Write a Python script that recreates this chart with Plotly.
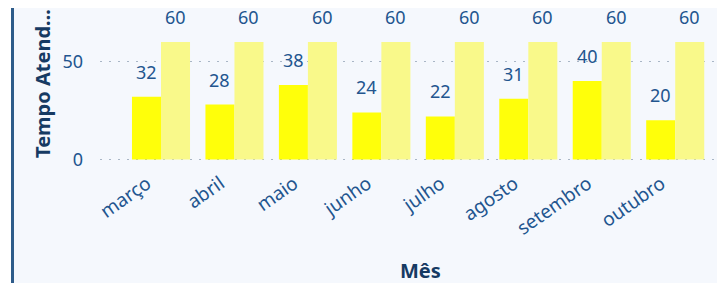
import plotly.graph_objects as go

meses = ["março", "abril", "maio", "junho", "julho", "agosto", "setembro", "outubro"]
tempo_atend = [32, 28, 38, 24, 22, 31, 40, 20]
meta = [60, 60, 60, 60, 60, 60, 60, 60]
y_ticks = [0, 50]

FONT = "Noto Sans"
LABEL_COLOR = "#22558F"
TITLE_COLOR = "#163A63"
BG = "#F5F8FD"
BARGAP = 0.21

# the page body has an 8px margin, so layout is computed in window pixels minus 8
OFF = 8
W, H = 725 - OFF, 283 - OFF
plot_left, plot_right, plot_top, plot_bottom = 100, 725, OFF, 162  # window px
L, R, T, B = plot_left - OFF, 725 - plot_right, plot_top - OFF, 283 - plot_bottom
pw = W - L - R
ph = H - T - B

fig = go.Figure()
fig.add_trace(go.Bar(x=meses, y=tempo_atend, name="Tempo Atendimento",
                     marker=dict(color="#FFFF0A", line=dict(width=0))))
fig.add_trace(go.Bar(x=meses, y=meta, name="Meta",
                     marker=dict(color="#F9F98A", line=dict(width=0))))

half = (1 - BARGAP) / 4
for i, (a, b) in enumerate(zip(tempo_atend, meta)):
    for xv, yv in ((i - half, a), (i + half, b)):
        fig.add_annotation(x=xv, y=yv, xref="x", yref="y", text=str(yv),
                           showarrow=False, yanchor="bottom", yshift=12, borderpad=0,
                           font=dict(family=FONT, size=18, color=LABEL_COLOR))

spacing = 73.46
cat0 = 161
x0 = (plot_left - cat0) / spacing
x1 = (plot_right - cat0) / spacing
ppu = 1.96
zero_px = 159.5
y_top = (zero_px - plot_top) / ppu
y_bot = -(plot_bottom - zero_px) / ppu


def px2paper_x(px):
    return (px - plot_left) / pw


def px2paper_y(py):
    return (plot_bottom - py) / ph


fig.add_shape(type="rect", xref="paper", yref="paper", x0=px2paper_x(-20), x1=px2paper_x(11),
              y0=-2, y1=2, fillcolor="white", line=dict(width=0), layer="below")
fig.add_shape(type="line", xref="paper", yref="paper", x0=px2paper_x(12.5), x1=px2paper_x(12.5),
              y0=-2, y1=2, line=dict(color="#2E5C8A", width=3))

fig.add_annotation(text="<b>Mês</b>", xref="paper", yref="paper",
                   x=px2paper_x(421), y=px2paper_y(270),
                   showarrow=False, xanchor="center", yanchor="middle",
                   font=dict(family=FONT, size=20, color=TITLE_COLOR))
fig.add_annotation(text="<b>Tempo Atend...</b>", xref="paper", yref="paper",
                   x=px2paper_x(42), y=px2paper_y(84), textangle=-90,
                   showarrow=False, xanchor="center", yanchor="middle",
                   font=dict(family=FONT, size=20, color=TITLE_COLOR))

fig.update_layout(
    width=W, height=H,
    margin=dict(l=L, r=R, t=T, b=B, autoexpand=False),
    paper_bgcolor=BG, plot_bgcolor=BG,
    barmode="group", bargap=BARGAP, bargroupgap=0,
    showlegend=False,
    font=dict(family=FONT, size=18, color=LABEL_COLOR),
)
fig.update_xaxes(range=[x0, x1], tickangle=-35, showgrid=False, zeroline=False,
                 showline=False, ticks="", ticklabelshift=-14, ticklabelstandoff=6,
                 tickfont=dict(family=FONT, size=19, color=LABEL_COLOR))
fig.update_yaxes(range=[y_bot, y_top], tickvals=y_ticks, showgrid=True,
                 gridcolor="#A9B6C6", griddash="2px,7px", gridwidth=1,
                 zeroline=False, showline=False, ticks="", ticklabelstandoff=16,
                 tickfont=dict(family=FONT, size=18, color=LABEL_COLOR))

fig.write_html("out.html")
